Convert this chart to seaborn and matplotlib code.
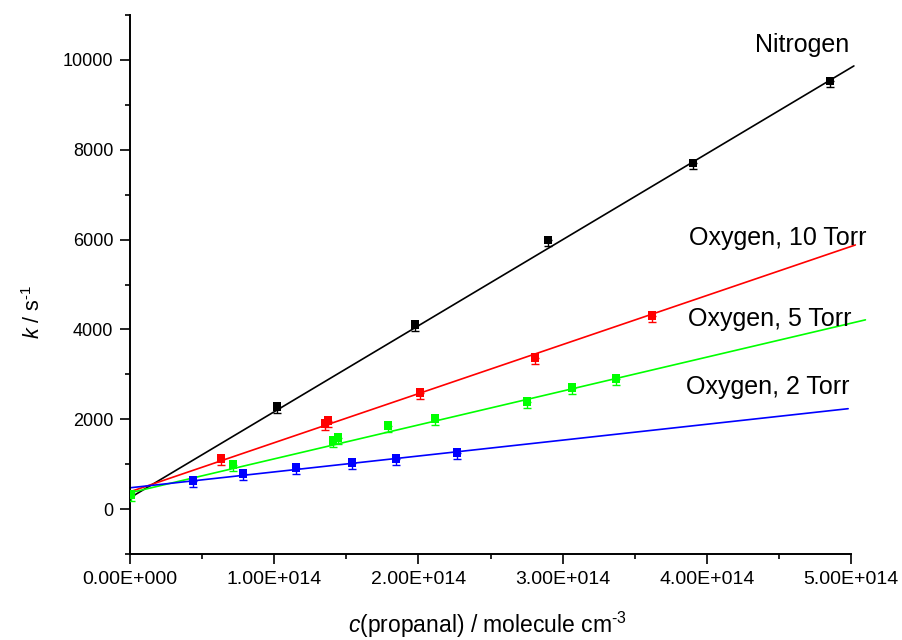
import numpy as np
import pandas as pd
import matplotlib
matplotlib.use("Agg")
import matplotlib.pyplot as plt
import seaborn as sns
from matplotlib.ticker import MultipleLocator, FuncFormatter

# ---------------- data ----------------
n2_c = [1.019e14, 1.976e14, 2.899e14, 3.904e14, 4.854e14]
n2_k = [2277, 4101, 5993, 7707, 9532]

o10_c = [0.631e14, 1.352e14, 1.373e14, 2.011e14, 2.809e14, 3.620e14]
o10_k = [1120, 1899, 1965, 2589, 3368, 4303]

o5_c = [0.007e14, 0.714e14, 1.408e14, 1.442e14, 1.789e14, 2.115e14, 2.753e14, 3.065e14, 3.370e14]
o5_k = [318, 986, 1520, 1587, 1854, 2010, 2388, 2700, 2900]

o2_c = [0.437e14, 0.784e14, 1.151e14, 1.540e14, 1.845e14, 2.268e14]
o2_k = [630, 786, 919, 1030, 1120, 1253]

# fitted straight lines: (c_start, c_end) and (k_start, k_end)
fit_c = {"Nitrogen": [0.0, 5.02e14], "Oxygen, 10 Torr": [0.0, 5.03e14],
         "Oxygen, 5 Torr": [0.0, 5.10e14], "Oxygen, 2 Torr": [0.0, 4.98e14]}
fit_k = {"Nitrogen": [252, 9866], "Oxygen, 10 Torr": [385, 5880],
         "Oxygen, 5 Torr": [363, 4213], "Oxygen, 2 Torr": [474, 2235]}

series_names = ["Nitrogen", "Oxygen, 10 Torr", "Oxygen, 5 Torr", "Oxygen, 2 Torr"]
series_c = [n2_c, o10_c, o5_c, o2_c]
series_k = [n2_k, o10_k, o5_k, o2_k]
err_low = 130

label_x = [4.66e14, 4.49e14, 4.44e14, 4.42e14]
label_y = [10334, 6035, 4232, 2717]

x_ticks = [0, 1e14, 2e14, 3e14, 4e14, 5e14]
x_ticklabels = ["0.00E+000", "1.00E+014", "2.00E+014", "3.00E+014", "4.00E+014", "5.00E+014"]

# ---------------- style ----------------
sns.set_theme(style="ticks")
plt.rcParams["font.family"] = ["Liberation Sans", "DejaVu Sans"]
plt.rcParams["mathtext.fontset"] = "custom"
plt.rcParams["mathtext.rm"] = "Liberation Sans"
plt.rcParams["mathtext.it"] = "Liberation Sans:italic"
for key in ["text.color", "axes.labelcolor", "xtick.color", "ytick.color",
            "xtick.labelcolor", "ytick.labelcolor", "axes.edgecolor"]:
    plt.rcParams[key] = "black"

colors = {"Nitrogen": "#000000", "Oxygen, 10 Torr": "#ff0000",
          "Oxygen, 5 Torr": "#00ff00", "Oxygen, 2 Torr": "#0000ff"}

rows = []
for name, cs, ks in zip(series_names, series_c, series_k):
    for c, k in zip(cs, ks):
        rows.append({"series": name, "c": c, "k": k})
df = pd.DataFrame(rows)

lrows = []
for name in series_names:
    for c, k in zip(fit_c[name], fit_k[name]):
        lrows.append({"series": name, "c": c, "k": k})
dfl = pd.DataFrame(lrows)

fig = plt.figure(figsize=(9.03, 6.40), dpi=100)
ax = fig.add_axes([130 / 903, 1 - 554 / 640, 721 / 903, 539 / 640])

sns.lineplot(data=dfl, x="c", y="k", hue="series", palette=colors, ax=ax,
             legend=False, linewidth=1.2, estimator=None, sort=False)
for line in ax.lines:
    line.set_clip_on(False)

for name in series_names:
    sub = df[df.series == name]
    ax.errorbar(sub.c, sub.k, yerr=[np.full(len(sub), err_low), np.zeros(len(sub))],
                fmt="none", ecolor=colors[name], elinewidth=1, capsize=3, capthick=1, zorder=3)
sns.scatterplot(data=df, x="c", y="k", hue="series", palette=colors, marker="s",
                s=40, edgecolor="none", ax=ax, legend=False, zorder=4)

for name, lx, ly in zip(series_names, label_x, label_y):
    ax.text(lx, ly, name, ha="center", va="center", fontsize=18, color="black")

ax.set_xlim(0, 5e14)
ax.set_ylim(-1000, 11000)
ax.set_xticks(x_ticks)
ax.set_xticklabels(x_ticklabels)
ax.xaxis.set_minor_locator(MultipleLocator(0.5e14))
ax.yaxis.set_major_locator(MultipleLocator(2000))
ax.yaxis.set_minor_locator(MultipleLocator(1000))
ax.yaxis.set_major_formatter(FuncFormatter(lambda v, p: f"{int(v)}"))
ax.tick_params(axis="both", which="major", direction="out", length=7, width=1.2,
               color="black", labelcolor="black", pad=5)
ax.tick_params(axis="both", which="minor", direction="out", length=3.5, width=1.2,
               color="black")
ax.tick_params(axis="y", which="major", labelsize=13)
ax.tick_params(axis="x", which="major", labelsize=14)

for side in ["top", "right"]:
    ax.spines[side].set_visible(False)
for side in ["left", "bottom"]:
    ax.spines[side].set_linewidth(1.4)
    ax.spines[side].set_color("black")

ax.set_xlabel("$c$(propanal) / molecule cm$^{\u2010 3}$", fontsize=16.5)
ax.set_ylabel("$k$ / s$^{\u2010 1}$", fontsize=15.5)
ax.xaxis.set_label_coords((487 - 130) / 721, -0.104)
ax.yaxis.set_label_coords((45 - 130) / 721, (554 - 312) / 539)
ax.grid(False)

fig.savefig("out.png", dpi=100)
